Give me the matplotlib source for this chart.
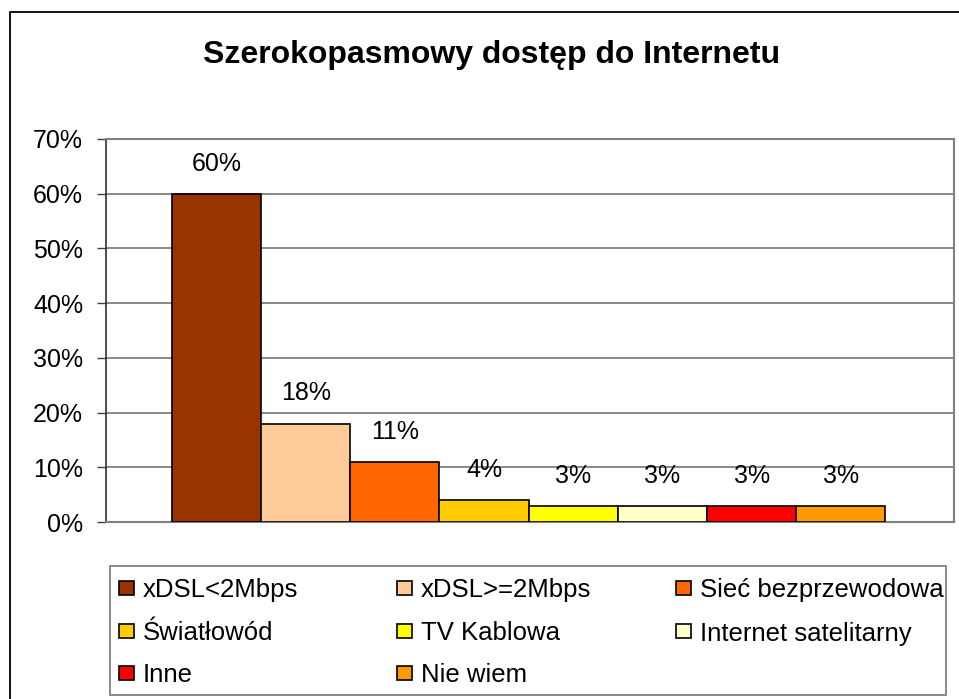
import matplotlib
matplotlib.use("Agg")
import matplotlib.pyplot as plt
from matplotlib.patches import Rectangle
from matplotlib.ticker import FuncFormatter

plt.rcParams['font.family'] = ['Liberation Sans', 'DejaVu Sans']

categories = ["xDSL<2Mbps", "xDSL>=2Mbps", "Sieć bezprzewodowa", "Światłowód",
              "TV Kablowa", "Internet satelitarny", "Inne", "Nie wiem"]
values = [60, 18, 11, 4, 3, 3, 3, 3]
colors = ["#993300", "#FFCC99", "#FF6600", "#FFCC00",
          "#FFFF00", "#FFFFCC", "#FF0000", "#FF9900"]
yticks = [0, 10, 20, 30, 40, 50, 60, 70]

W, H = 959, 699
fig = plt.figure(figsize=(W / 100, H / 100), dpi=100)


def fx(x):
    return x / W


def fy(y):
    return 1 - y / H


# outer chart border (right and bottom edges fall outside the image)
fig.add_artist(Rectangle((fx(10), -0.1), 1.2, 1.1 - 12 / H, transform=fig.transFigure,
                         fill=False, edgecolor="black", linewidth=1.3))

ax = fig.add_axes([fx(106), fy(522), (954 - 106) / W, (522 - 139) / H])

xs = list(range(len(values)))
ax.bar(xs, values, width=1.0, color=colors, edgecolor="black", linewidth=1.2, zorder=3)

for x, v in zip(xs, values):
    ax.annotate(f"{v}%", (x, v), xytext=(0, 13), textcoords="offset points",
                ha="center", va="bottom", fontsize=18)

ax.set_xlim(-1.24, 8.27)
ax.set_ylim(0, 70)
ax.set_yticks(yticks)
ax.yaxis.set_major_formatter(FuncFormatter(lambda v, p: f"{int(v)}%"))
ax.set_xticks([])
ax.tick_params(axis="y", labelsize=18, length=6.5, width=1, color="#404040", pad=10)
ax.yaxis.grid(True, color="#808080", linewidth=1.3, zorder=0)
ax.set_axisbelow(True)

for side in ["top", "right", "bottom"]:
    ax.spines[side].set_color("#808080")
    ax.spines[side].set_linewidth(1.5)
ax.spines["left"].set_color("#303030")
ax.spines["left"].set_linewidth(1.2)

fig.text(fx(492), fy(55), "Szerokopasmowy dostęp do Internetu",
         ha="center", va="center", fontsize=23, fontweight="bold")

# legend, laid out row by row like the original
fig.add_artist(Rectangle((fx(110), fy(695)), (946 - 110) / W, (695 - 566) / H,
                         transform=fig.transFigure, facecolor="white",
                         edgecolor="#808080", linewidth=1.3))
col_x = [119, 397, 676]
row_y = [588, 631, 673]
for i, (cat, col) in enumerate(zip(categories, colors)):
    hx = col_x[i % 3]
    hy = row_y[i // 3]
    fig.add_artist(Rectangle((fx(hx), fy(hy + 7)), 15 / W, 14 / H,
                             transform=fig.transFigure, facecolor=col,
                             edgecolor="black", linewidth=1.2))
    fig.text(fx(hx + 24), fy(hy), cat, ha="left", va="center_baseline",
             fontsize=18.5)

fig.savefig("out.png", dpi=100)
